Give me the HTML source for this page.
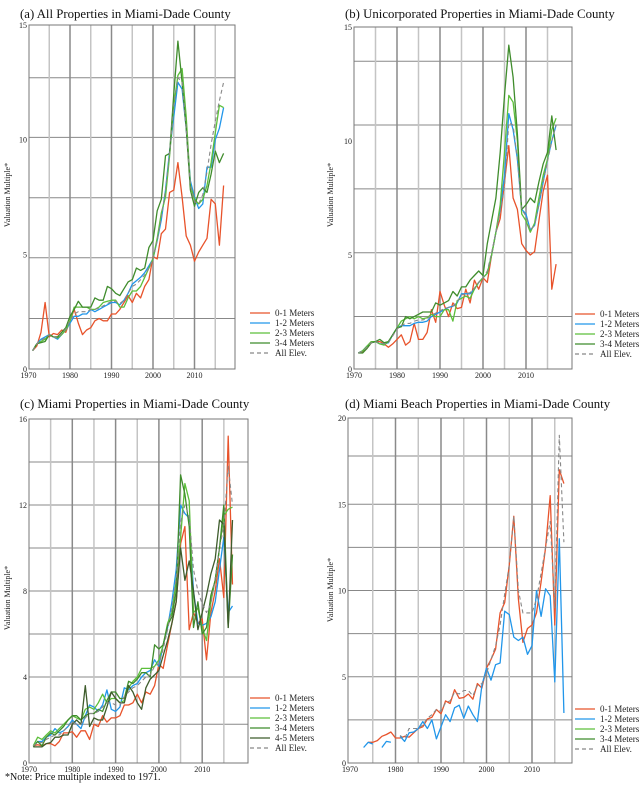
<!DOCTYPE html>
<html><head><meta charset="utf-8"><style>
html,body{margin:0;padding:0;background:#fff;}
svg{display:block;font-family:"Liberation Serif",serif;}
</style></head><body>
<svg id="chart" width="640" height="786" viewBox="0 0 640 786"></svg>
<script>
const years = [];
for (let y = 1971; y <= 2017; y++) years.push(y);
const xTickLabels = [1970, 1980, 1990, 2000, 2010];
const xGridYears = [1975, 1980, 1985, 1990, 1995, 2000, 2005, 2010, 2015];

// Panel (a)
const aYTicks = [0, 5, 10, 15];
const aGrid = [2.2, 4.85, 7.47, 10.1, 12.7];
const a01 = [0.8,1.0,1.6,2.9,1.4,1.55,1.5,1.7,1.6,2.1,2.6,2.0,1.5,1.7,1.8,2.1,2.2,2.1,2.1,2.4,2.4,2.6,2.9,3.2,2.9,3.3,3.1,3.6,3.9,4.9,4.8,5.9,6.1,7.7,7.8,9.0,7.5,5.8,5.4,4.7,5.1,5.4,5.7,7.4,7.2,5.4,8.0];
const a12 = [0.8,1.1,1.3,1.4,1.5,1.4,1.3,1.5,1.7,2.0,2.3,2.3,2.4,2.4,2.6,2.5,2.6,2.7,2.8,2.9,2.9,2.8,3.0,3.3,3.7,3.85,4.0,4.2,4.5,4.8,5.6,6.5,7.8,9.5,11.0,12.5,12.2,10.5,8.2,7.5,7.0,7.2,8.8,8.8,10.0,10.5,11.4];
const a23 = [0.8,1.1,1.2,1.3,1.5,1.4,1.35,1.5,1.7,2.1,2.7,2.7,2.7,2.7,2.6,2.6,2.7,2.9,2.95,3.0,3.0,2.7,2.7,3.1,3.4,3.4,3.6,4.0,4.4,4.8,5.7,6.8,7.5,9.3,11.5,12.8,13.1,11.0,8.0,7.4,7.2,7.4,8.0,9.0,10.3,11.5,11.4];
const a34 = [0.8,1.1,1.15,1.2,1.5,1.4,1.4,1.6,1.8,2.3,2.6,2.95,2.7,2.7,2.7,3.1,3.0,3.0,3.6,3.5,3.3,3.2,3.5,3.8,3.9,4.4,4.3,4.4,5.3,5.6,6.9,7.4,9.3,9.4,12.0,14.3,12.5,10.5,7.8,7.1,7.7,7.9,7.7,8.5,9.5,9.0,9.4];
const aAll = [0.8,1.1,1.25,1.35,1.5,1.4,1.35,1.55,1.75,2.1,2.4,2.5,2.5,2.5,2.6,2.6,2.65,2.75,2.85,2.95,2.95,2.85,3.0,3.3,3.6,3.7,3.9,4.1,4.4,4.8,5.6,6.6,7.8,9.4,11.5,12.7,12.5,10.5,8.0,7.3,7.2,7.6,8.6,9.8,10.8,11.7,12.5];

// Panel (b)
const bYTicks = [0, 5, 10, 15];
const bGrid = [2.3, 5.1, 7.9, 10.7, 13.5];
const b01 = [0.7,0.75,0.9,1.15,1.2,1.2,1.1,0.95,1.1,1.3,1.5,1.05,1.2,2.0,1.3,1.3,1.6,2.6,2.05,3.4,2.8,2.3,2.9,2.65,2.7,3.5,2.9,3.9,3.5,4.0,3.8,5.0,6.0,6.6,8.2,9.8,7.5,7.0,5.5,5.2,5.0,5.15,6.5,7.8,8.5,3.5,4.6];
const b12 = [0.7,0.8,1.0,1.15,1.2,1.1,1.1,1.15,1.5,1.8,1.9,1.9,1.9,2.0,2.05,2.05,2.1,2.3,2.4,2.5,2.6,2.7,2.75,2.9,3.3,3.3,3.3,3.5,3.8,4.0,4.2,5.0,6.0,7.0,8.5,11.2,10.5,9.2,7.0,6.8,6.1,6.3,7.2,8.2,9.2,10.0,10.7];
const b23 = [0.7,0.8,1.0,1.2,1.2,1.1,1.05,1.2,1.5,1.8,2.1,2.2,2.3,2.2,2.3,2.2,2.25,2.4,2.3,2.3,2.6,2.6,2.1,3.0,3.1,3.2,3.1,3.5,3.8,4.0,4.2,5.0,6.0,7.2,9.5,12.0,11.7,10.0,6.8,6.5,6.0,6.4,7.5,8.5,9.2,10.5,11.0];
const b34 = [0.7,0.7,0.9,1.15,1.2,1.3,1.15,1.2,1.5,1.8,1.85,2.3,2.2,2.3,2.4,2.5,2.5,2.5,2.9,2.8,2.9,3.0,3.4,3.2,3.6,3.6,3.9,4.1,4.3,4.1,5.5,6.5,7.5,9.5,12.0,14.2,12.8,10.3,7.0,7.2,7.5,7.3,8.2,9.0,9.5,11.1,9.6];
const bAll = [0.7,0.78,0.95,1.15,1.2,1.15,1.1,1.15,1.45,1.75,1.9,2.0,2.0,2.1,2.15,2.15,2.2,2.35,2.45,2.55,2.65,2.7,2.75,2.95,3.25,3.3,3.35,3.55,3.8,4.0,4.3,5.1,6.0,6.9,8.0,10.8,10.7,9.2,7.0,6.7,6.1,6.3,7.2,8.2,9.1,10.0,10.7];

// Panel (c)
const cYTicks = [0, 4, 8, 12, 16];
const cGrid = [1.8, 4, 6, 8, 10, 12, 14];
const c01 = [0.8,0.85,0.8,0.9,0.9,0.8,1.0,1.4,1.4,1.45,1.2,1.5,1.5,1.1,1.8,1.7,2.2,1.9,2.1,2.1,2.2,2.7,2.7,2.8,3.2,2.8,3.3,3.2,3.6,4.6,4.4,5.5,6.5,7.5,10.2,11.0,6.2,7.0,6.5,6.7,4.8,7.0,8.0,9.5,7.7,15.2,8.3];
const c12 = [0.8,1.0,1.0,1.2,1.3,1.6,1.4,1.5,1.7,2.0,1.8,1.6,2.2,2.7,2.6,2.4,2.7,3.4,2.5,2.4,2.6,3.5,3.4,3.6,3.7,4.0,4.2,4.3,4.8,4.5,5.5,6.3,7.5,9.0,12.0,11.6,11.4,8.0,6.5,6.4,6.5,6.8,7.5,9.0,10.5,7.0,7.3];
const c23 = [0.8,1.2,1.1,1.3,1.5,1.4,1.6,1.8,2.0,2.2,2.1,2.0,2.5,2.6,2.5,2.8,3.2,2.8,3.0,3.0,2.8,2.9,3.5,3.8,4.0,4.4,4.4,4.4,4.5,4.8,5.5,6.5,7.0,8.5,10.5,13.0,12.2,7.0,7.2,6.3,5.7,7.5,8.5,10.0,11.5,11.8,11.9];
const c34 = [0.75,1.0,0.8,1.2,1.4,1.3,1.5,1.7,2.0,2.2,2.2,2.0,2.2,2.3,2.3,2.5,2.4,2.9,3.3,3.3,3.0,3.0,3.8,3.7,3.9,4.2,4.2,4.0,5.5,5.3,5.5,6.4,6.8,8.0,13.4,12.5,11.0,6.3,7.5,6.0,6.3,7.8,8.5,10.0,12.0,6.3,9.7];
const c45 = [0.75,0.75,0.75,0.9,0.95,1.2,1.2,1.3,1.3,1.8,2.0,1.8,3.6,1.7,2.1,2.0,2.0,2.6,3.3,3.0,2.8,2.8,3.6,3.3,2.8,2.5,3.5,3.9,4.1,4.3,5.0,5.7,6.5,7.5,10.0,8.5,9.4,8.0,6.2,7.0,7.8,8.8,9.5,11.3,11.1,6.3,11.3];
const cAll = [0.8,0.95,0.95,1.1,1.2,1.3,1.3,1.5,1.7,1.9,1.8,1.8,2.1,2.3,2.3,2.4,2.6,2.8,2.8,2.7,2.7,3.1,3.3,3.5,3.6,3.8,4.0,4.1,4.5,4.6,5.3,6.2,7.2,8.6,11.2,12.0,11.5,9.0,8.0,7.4,7.0,7.4,8.6,10.0,11.0,13.8,12.0];

// Panel (d)
const dYTicks = [0, 5, 10, 15, 20];
const dGrid = [2.5, 5, 7.5, 10, 12.5, 15, 17.8];
const d01 = [null,null,null,1.2,1.2,1.3,1.55,1.65,1.8,1.45,1.45,1.55,1.5,1.75,2.0,2.1,2.55,2.65,3.1,2.85,3.6,3.45,4.25,3.75,3.8,4.0,3.7,4.6,4.35,5.5,6.0,6.6,8.7,9.3,11.5,14.3,9.5,7.0,7.8,8.0,8.7,10.5,12.5,15.5,8.0,17.0,16.2];
const d12 = [null,null,0.9,1.2,1.1,null,0.9,1.25,1.2,null,1.55,1.25,1.75,1.8,2.0,2.4,2.0,2.5,1.4,2.1,2.8,2.4,3.2,3.35,2.6,3.3,2.8,2.4,4.5,5.5,4.8,5.7,5.8,8.8,8.6,7.3,7.1,7.3,6.3,6.8,10.0,8.5,10.1,9.7,4.7,13.0,2.9];
const dAll = [null,null,null,null,null,null,null,null,null,null,1.6,1.4,2.0,2.0,2.0,2.2,2.6,2.8,3.1,3.0,3.5,3.6,4.1,4.0,4.2,4.2,3.9,4.5,4.6,5.2,6.0,6.8,8.0,9.8,11.5,14.3,10.0,8.7,8.7,8.7,9.5,11.0,12.5,14.0,9.0,19.0,12.8];

const C01 = '#e8532b', C12 = '#2196ea', C23 = '#5cbf3a', C34 = '#3f8c2c', C45 = '#3e5c2c', CALL = '#888';

const panels = [
  {id:'a', title:'(a) All Properties in Miami-Dade County', tx:20, ty:18, L:29, R:235, T:25, B:369, yMax:15, yTicks:aYTicks, grid:aGrid, x1970:28.5, perYr:4.15, ytx:10, yty:195,
   series:[['0-1 Meters',a01,C01],['1-2 Meters',a12,C12],['2-3 Meters',a23,C23],['3-4 Meters',a34,C34],['All Elev.',aAll,CALL,true]], lx:250, ly:313},
  {id:'b', title:'(b) Unicorporated Properties in Miami-Dade County', tx:345, ty:18, L:354, R:572, T:27, B:369, yMax:15, yTicks:bYTicks, grid:bGrid, x1970:354, perYr:4.3, ytx:333, yty:195,
   series:[['0-1 Meters',b01,C01],['1-2 Meters',b12,C12],['2-3 Meters',b23,C23],['3-4 Meters',b34,C34],['All Elev.',bAll,CALL,true]], lx:575, ly:314},
  {id:'c', title:'(c) Miami Properties in Miami-Dade County', tx:20, ty:408, L:29, R:248, T:419, B:763, yMax:16, yTicks:cYTicks, grid:cGrid, x1970:29, perYr:4.33, ytx:10, yty:598,
   series:[['0-1 Meters',c01,C01],['1-2 Meters',c12,C12],['2-3 Meters',c23,C23],['3-4 Meters',c34,C34],['4-5 Meters',c45,C45],['All Elev.',cAll,CALL,true]], lx:250, ly:698},
  {id:'d', title:'(d)  Miami Beach Properties in Miami-Dade County', tx:345, ty:408, L:348, R:572, T:418, B:763, yMax:20, yTicks:dYTicks, grid:dGrid, x1970:350, perYr:4.55, ytx:333, yty:590,
   series:[['0-1 Meters',d01,C01],['1-2 Meters',d12,C12],['2-3 Meters',[],C23],['3-4 Meters',[],C34],['All Elev.',dAll,CALL,true]], lx:575, ly:709}
];

const NS = 'http://www.w3.org/2000/svg';
const svg = document.getElementById('chart');
function mk(tag, attrs, parent, text) {
  const e = document.createElementNS(NS, tag);
  for (const k in attrs) e.setAttribute(k, attrs[k]);
  if (text !== undefined) e.textContent = text;
  parent.appendChild(e);
  return e;
}

panels.forEach(p => {
  const g = mk('g', {}, svg);
  
  
  const xs = yr => p.x1970 + (yr - 1970) * p.perYr;
  const ys = v => p.B - v / p.yMax * (p.B - p.T);

  const t = mk('text', {x:p.tx, y:p.ty, 'font-size':12.8, fill:'#111'}, g, p.title);
  
  

  p.grid.forEach(v => {
    const l = mk('line', {x1:p.L, x2:p.R, y1:ys(v), y2:ys(v), stroke:'#888', 'stroke-width':1}, g);
    
    
  });
  xGridYears.forEach(yr => {
    const dec = yr % 10 === 0;
    const l = mk('line', {x1:xs(yr), x2:xs(yr), y1:p.T, y2:p.B, stroke: dec ? '#8a8a8a' : '#c4c4c4', 'stroke-width':1.5}, g);
    
    
  });
  const fr = mk('rect', {x:p.L, y:p.T, width:p.R - p.L, height:p.B - p.T, fill:'none', stroke:'#777', 'stroke-width':1}, g);
  
  

  p.yTicks.forEach(v => {
    const tl = mk('text', {x:p.L - 2, y:ys(v) + 3, 'font-size':8, 'text-anchor':'end', fill:'#222'}, g, String(v));
    
    
  });
  xTickLabels.forEach(yr => {
    const tl = mk('text', {x:xs(yr), y:p.B + 9, 'font-size':8, 'text-anchor':'middle', fill:'#222'}, g, String(yr));
    
    
  });
  const yt = mk('text', {x:p.ytx, y:p.yty, 'font-size':8, 'text-anchor':'middle', fill:'#222', transform:`rotate(-90 ${p.ytx} ${p.yty})`}, g, 'Valuation Multiple*');
  
  

  p.series.forEach((s, si) => {
    const [name, vals, col, dashed] = s;
    let d = '', pen = false;
    vals.forEach((v, i) => {
      if (v === null || v === undefined) { pen = false; return; }
      d += (pen ? 'L' : 'M') + xs(years[i]).toFixed(1) + ',' + ys(v).toFixed(1);
      pen = true;
    });
    if (d) {
      const path = mk('path', {d:d, fill:'none', stroke:col, 'stroke-width': dashed ? 1.1 : 1.3, 'stroke-dasharray': dashed ? '4,3' : 'none', 'stroke-linejoin':'round'}, g);
      
      
    }
    const ly = p.ly + si * 10;
    const le = mk('g', {}, g);
    
    
    mk('line', {x1:p.lx, x2:p.lx + 20, y1:ly, y2:ly, stroke:col, 'stroke-width':1.3, 'stroke-dasharray': dashed ? '4,3' : 'none'}, le);
    mk('text', {x:p.lx + 25, y:ly + 3, 'font-size':9, fill:'#222'}, le, name);
  });
});

const note = mk('text', {x:5, y:780, 'font-size':10, fill:'#111'}, svg, '*Note: Price multiple indexed to 1971.');


</script>
</body></html>
